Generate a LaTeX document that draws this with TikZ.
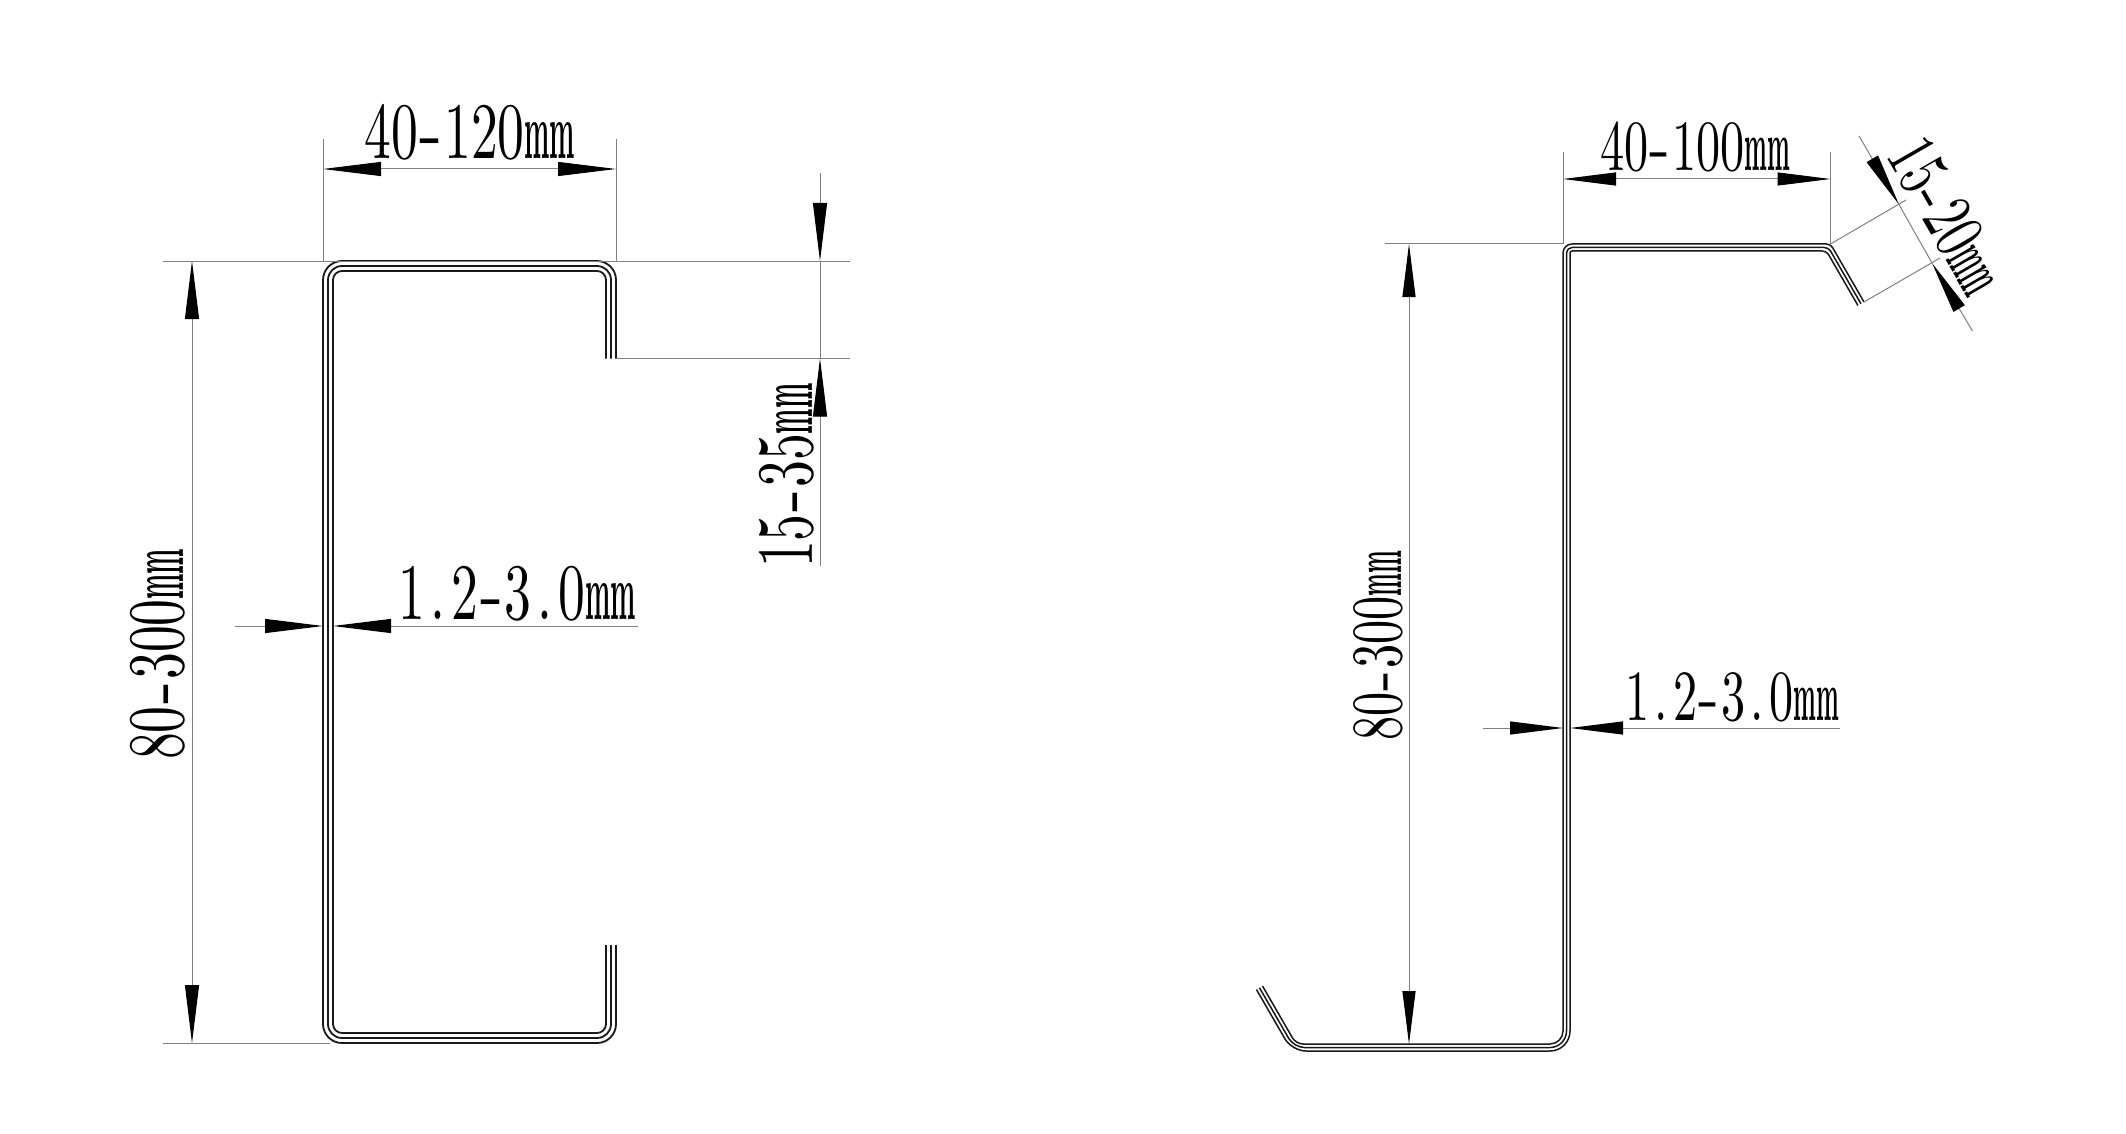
\documentclass[tikz,border=0pt]{standalone}
\usepackage{graphicx}
\usetikzlibrary{arrows.meta}
\definecolor{dimgray}{gray}{0.5}
\font\bigf="[lmroman10-regular.otf]" at 80pt
\font\smallf="[lmroman10-regular.otf]" at 72pt
\font\bigm="[lmroman10-bold.otf]" at 80pt
\font\smallm="[lmroman10-bold.otf]" at 72pt
\newcommand\hy{\kern.03em\scalebox{1.3}[1]{-}\kern.03em}
\newcommand\pd{\kern.11em.\kern.11em}
\newcommand\dimlabB[1]{\scalebox{.67}[1]{\bigf #1}\scalebox{.33}[1]{\bigm mm}}
\newcommand\dimlabS[1]{\scalebox{.67}[1]{\smallf #1}\scalebox{.33}[1]{\smallm mm}}
\tikzset{
  dimline/.style={draw=dimgray,line width=1pt},
  tipbig/.style={-{Triangle[length=58pt,width=14pt,color=black]}},
  tipsmall/.style={-{Triangle[length=53pt,width=13pt,color=black]}},
  lab/.style={inner sep=0pt,anchor=base west},
  profL/.style={draw=black!90,line width=1.8pt,line join=round},
  profR/.style={draw=black!90,line width=1.5pt,line join=round},
}
\begin{document}
\begin{tikzpicture}[x=1pt,y=-1pt]
\useasboundingbox[fill=white] (0,0) rectangle (2126,1134);
% ---------- left section ----------
\foreach \d in {0,5,10}{
  \pgfmathsetmacro\ra{19-\d}
  \draw[profL,rounded corners=\ra pt]
    ({616-\d},358.5) -- ({616-\d},{261+\d}) -- ({323+\d},{261+\d})
    -- ({323+\d},{1043-\d}) -- ({616-\d},{1043-\d}) [sharp corners] -- ({616-\d},945);
}
\coordinate (lwl) at (323,139); \coordinate (lwr) at (616,139);
\coordinate (ltl) at (323,261); \coordinate (ltr) at (616,261);
\coordinate (lw1) at (323,169); \coordinate (lw2) at (616,169); \coordinate (lwm) at (470,169);
\draw[dimline] (lwl) -- (ltl);
\draw[dimline] (lwr) -- (ltr);
\draw[dimline,tipbig] (lwm) -- (lw1);
\draw[dimline,tipbig] (lwm) -- (lw2);
\coordinate (lext1) at (163,261); \coordinate (lext1b) at (850,261);
\coordinate (lext2) at (163,1043); \coordinate (lext2b) at (330,1043);
\coordinate (lext3) at (616,358.5); \coordinate (lext3b) at (850,358.5);
\draw[dimline] (lext1) -- (lext1b);
\draw[dimline] (lext2) -- (lext2b);
\draw[dimline] (lext3) -- (lext3b);
\coordinate (lh1) at (192,261); \coordinate (lh2) at (192,1043); \coordinate (lhm) at (192,650);
\draw[dimline,tipbig] (lhm) -- (lh1);
\draw[dimline,tipbig] (lhm) -- (lh2);
\coordinate (ll0) at (820,173); \coordinate (ll1) at (820,261);
\coordinate (ll2) at (820,566); \coordinate (ll3) at (820,358.5);
\draw[dimline,tipbig] (ll0) -- (ll1);
\draw[dimline,tipbig] (ll2) -- (ll3);
\draw[dimline] (ll1) -- (ll3);
\coordinate (lt0) at (235,626); \coordinate (lt1) at (323,626);
\coordinate (lt2) at (638,626); \coordinate (lt3) at (333,626);
\draw[dimline,tipbig] (lt0) -- (lt1);
\draw[dimline,tipbig] (lt2) -- (lt3);
\node[lab] (t40120) at (364,159) {\dimlabB{40\hy120}};
\node[lab,rotate=90] (t80300l) at (183,760) {\dimlabB{80\hy300}};
\node[lab,rotate=90] (t1535) at (812,568) {\dimlabB{15\hy35}};
\node[lab] (t1230l) at (398,619) {\dimlabB{1\pd2\hy3\pd0}};
% ---------- right section ----------
\foreach \d in {0,3.5,7}{
  \pgfmathsetmacro\ra{9-\d}
  \pgfmathsetmacro\rb{13+\d}
  \pgfmathsetmacro\rc{7+\d}
  \draw[profR]
    ({1864-.866*\d},{302+.5*\d})
    [rounded corners=4pt] -- ({1830.5-.577*\d},{244+\d})
    [rounded corners=\ra pt] -- ({1563+\d},{244+\d})
    [rounded corners=\rb pt] -- ({1563+\d},{1044+\d})
    [rounded corners=\rc pt] -- ({1296-.577*\d},{1044+\d})
    [sharp corners] -- ({1262.5-.866*\d},{986+.5*\d});
}
\coordinate (rwl) at (1563,152); \coordinate (rwr) at (1830.5,152);
\coordinate (rtl) at (1563,244); \coordinate (rtr) at (1830.5,244);
\coordinate (rw1) at (1563,179); \coordinate (rw2) at (1830.5,179); \coordinate (rwm) at (1700,179);
\draw[dimline] (rwl) -- (rtl);
\draw[dimline] (rwr) -- (rtr);
\draw[dimline,tipsmall] (rwm) -- (rw1);
\draw[dimline,tipsmall] (rwm) -- (rw2);
\coordinate (rext) at (1385,244);
\draw[dimline] (rext) -- (rtl);
\coordinate (rh1) at (1409,244); \coordinate (rh2) at (1409,1044); \coordinate (rhm) at (1409,640);
\draw[dimline,tipsmall] (rhm) -- (rh1);
\draw[dimline,tipsmall] (rhm) -- (rh2);
\coordinate (rt0) at (1483,728); \coordinate (rt1) at (1563,728);
\coordinate (rt2) at (1840,728); \coordinate (rt3) at (1570,728);
\draw[dimline,tipsmall] (rt0) -- (rt1);
\draw[dimline,tipsmall] (rt2) -- (rt3);
% slanted dimension
\coordinate (re1a) at (1830.5,244); \coordinate (re1b) at (1906,200);
\coordinate (re2a) at (1864,302); \coordinate (re2b) at (1940,258);
\draw[dimline] (re1a) -- (re1b);
\draw[dimline] (re2a) -- (re2b);
\coordinate (rs0) at (1859,136); \coordinate (rs1) at (1899,204.6);
\coordinate (rs2) at (1972.5,331); \coordinate (rs3) at (1932,263);
\draw[dimline,tipsmall] (rs0) -- (rs1);
\draw[dimline,tipsmall] (rs2) -- (rs3);
\draw[dimline] (rs1) -- (rs3);
\node[lab] (t40100) at (1600,171) {\dimlabS{40\hy100}};
\node[lab,rotate=90] (t80300r) at (1401,741) {\dimlabS{80\hy300}};
\node[lab] (t1230r) at (1625,720) {\dimlabS{1\pd2\hy3\pd0}};
\node[lab,rotate=-60] (t1520) at (1885,155) {\dimlabS{15\hy20}};
\end{tikzpicture}
\end{document}
